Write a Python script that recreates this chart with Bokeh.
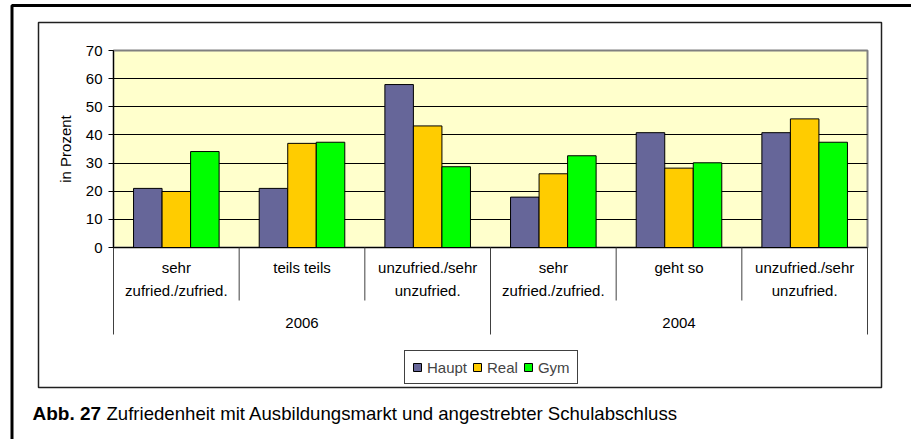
import numpy as np
from bokeh.plotting import figure
from bokeh.models import (Range1d, FixedTicker, BoxAnnotation, Label, Legend,
                          LegendItem)
from bokeh.core.properties import value
from bokeh.embed import file_html
from bokeh.resources import INLINE

# ---------------- data ----------------
years = ["2006", "2004"]
categories = ["sehr\nzufried./zufried.", "teils teils", "unzufried./sehr\nunzufried.",
              "sehr\nzufried./zufried.", "geht so", "unzufried./sehr\nunzufried."]
cat_year = ["2006", "2006", "2006", "2004", "2004", "2004"]
series = ["Haupt", "Real", "Gym"]
haupt = [21.0, 21.0, 57.9, 17.9, 40.8, 40.8]
real = [19.9, 37.0, 43.2, 26.2, 28.2, 45.7]
gym = [34.1, 37.4, 28.7, 32.6, 30.1, 37.4]
y_ticks = [0, 10, 20, 30, 40, 50, 60, 70]
y_label = "in Prozent"
caption_bold = "Abb. 27"
caption_text = "Zufriedenheit mit Ausbildungsmarkt und angestrebter Schulabschluss"

colors = ["#666699", "#FFCC00", "#00FF00"]
FONT = "Liberation Sans"

# ---------------- layout (page pixels) ----------------
W, H = 911, 439
PL, PR = 113, 867            # plot area left / right
Y0_PX, YTOP_PX = 247, 50     # pixel rows of y=0 and y=70
n = len(categories)
ppu_y = (Y0_PX - YTOP_PX) / (y_ticks[-1] - y_ticks[0])
ppu_x = (PR - PL) / n


def X(px):
    return (px - PL) / ppu_x


def Y(py):
    return (Y0_PX - py) / ppu_y


p = figure(width=W, height=H, output_backend="svg", toolbar_location=None,
           x_range=Range1d(X(0), X(W)), y_range=Range1d(Y(H), Y(0)),
           x_axis_location=None, y_axis_location="left",
           min_border=0, min_border_left=0, min_border_right=0,
           min_border_top=0, min_border_bottom=0)
p.outline_line_color = None
p.background_fill_color = "white"
p.border_fill_color = "white"
p.xgrid.visible = False

# plot area background
p.add_layout(BoxAnnotation(left=0, right=n, bottom=y_ticks[0], top=y_ticks[-1],
                           fill_color="#FFFFCC", fill_alpha=1,
                           line_color="#808080", line_alpha=1, line_width=2,
                           level="image"))

p.ygrid.ticker = FixedTicker(ticks=y_ticks[1:-1])
p.ygrid.cross_bounds = (0, n)
p.ygrid.grid_line_color = "#000000"
p.ygrid.grid_line_width = 1

ax = p.yaxis[0]
ax.fixed_location = 0
ax.ticker = FixedTicker(ticks=y_ticks)
ax.bounds = (y_ticks[0], y_ticks[-1])
ax.axis_line_color = "black"
ax.major_tick_line_color = "black"
ax.major_tick_out = 5
ax.major_tick_in = 0
ax.minor_tick_line_color = None
ax.major_label_text_font = FONT
ax.major_label_text_font_size = "15px"
ax.major_label_text_color = "black"
ax.major_label_standoff = 6

# y axis title
p.add_layout(Label(x=X(65), y=Y(148.5), text=y_label, angle=np.pi / 2,
                   text_align="center", text_baseline="middle",
                   text_font=FONT, text_font_size="15px", text_color="black"))

# bars
xs = np.arange(n) + 0.5
bw = 0.227
renderers = []
for i, (name, vals, col) in enumerate(zip(series, [haupt, real, gym], colors)):
    r = p.vbar(x=xs + (i - 1) * bw, top=vals, width=bw, bottom=0,
               fill_color=col, line_color="black", line_width=1)
    renderers.append(r)

# zero line
p.segment(x0=[0], y0=[0], x1=[n], y1=[0], line_color="black", line_width=1)

# separators under the axis
sep_x, sep_b = [], []
for b in range(n + 1):
    if b == 0 or b == n or cat_year[b] != cat_year[b - 1]:
        bottom = Y(334)
    else:
        bottom = Y(300)
    sep_x.append(b)
    sep_b.append(bottom)
p.segment(x0=sep_x, y0=[0] * len(sep_x), x1=sep_x, y1=sep_b,
          line_color="#404040", line_width=1)

# category labels
p.text(x=xs, y=[Y(258)] * n, text=categories, text_align="center",
       text_baseline="top", text_font=value(FONT), text_font_size="15px",
       text_line_height=1.36, text_color="black")

# year labels
year_x = [float(np.mean([xs[i] for i in range(n) if cat_year[i] == yv])) for yv in years]
p.text(x=year_x, y=[Y(322)] * len(years), text=years, text_align="center",
       text_baseline="middle", text_font=value(FONT), text_font_size="15px",
       text_color="black")

# legend
legend = Legend(items=[LegendItem(label=s, renderers=[r]) for s, r in zip(series, renderers)],
                location=(404, H - 384), orientation="horizontal",
                glyph_width=10, glyph_height=10, label_standoff=5, spacing=5,
                padding=7, label_height=18, margin=0,
                label_text_font=FONT, label_text_font_size="15px",
                border_line_color="#404040", border_line_width=1, border_line_alpha=1,
                background_fill_color="white", background_fill_alpha=1)
p.add_layout(legend)

# chart frame and page frame
p.add_layout(BoxAnnotation(left=X(38), right=X(881), top=Y(22), bottom=Y(387),
                           fill_alpha=0, line_color="#202020", line_alpha=1,
                           line_width=1.5))
p.add_layout(BoxAnnotation(left=X(11.5), right=X(1000), top=Y(5), bottom=Y(700),
                           fill_alpha=0, line_color="black", line_alpha=1,
                           line_width=3))

# caption
p.add_layout(Label(x=X(32), y=Y(413), text=caption_bold, text_font=FONT,
                   text_font_size="19px", text_font_style="bold",
                   text_baseline="alphabetic", text_color="black"))
p.add_layout(Label(x=X(106), y=Y(413), text=caption_text, text_font=FONT,
                   text_font_size="18.6px", text_baseline="alphabetic",
                   text_color="black"))

open("out.html", "w").write(file_html(p, INLINE))
